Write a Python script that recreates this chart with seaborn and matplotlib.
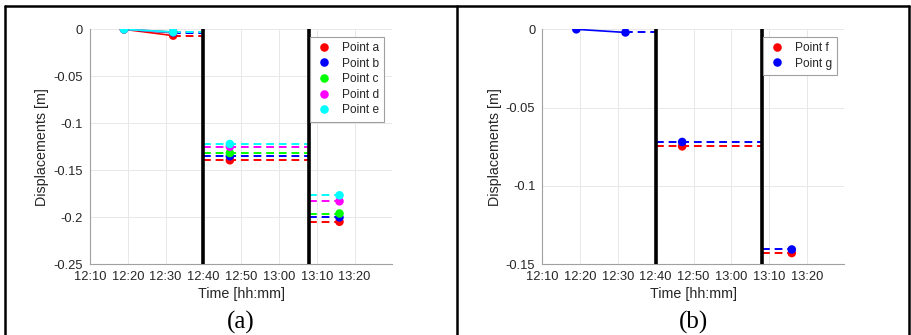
import numpy as np
import pandas as pd
import matplotlib
matplotlib.use("Agg")
import matplotlib.pyplot as plt
import seaborn as sns
from matplotlib.lines import Line2D
from matplotlib.ticker import FuncFormatter, FixedLocator

# measurement epochs and the two interruption times
times = ["12:19", "12:32", "12:47", "13:16"]
breaks = ["12:40", "13:08"]
xticks = ["12:10", "12:20", "12:30", "12:40", "12:50", "13:00", "13:10", "13:20"]

# panel (a) displacements [m]
points_a = ["Point a", "Point b", "Point c", "Point d", "Point e"]
disp_a = [
    [0.0, -0.0067, -0.1395, -0.2050],
    [0.0, -0.0036, -0.1352, -0.2003],
    [0.0, -0.0031, -0.1318, -0.1962],
    [0.0, -0.0030, -0.1250, -0.1832],
    [0.0, -0.0028, -0.1222, -0.1768],
]
colors_a = ["#ff0000", "#0000ff", "#00ff00", "#ff00ff", "#00ffff"]

# panel (b) displacements [m]
points_b = ["Point f", "Point g"]
disp_b = [
    [np.nan, np.nan, -0.0748, -0.1430],
    [0.0, -0.0020, -0.0720, -0.1407],
]
colors_b = ["#ff0000", "#0000ff"]


def to_min(s):
    h, m = s.split(":")
    return int(h) * 60 + int(m)


def hhmm(v, pos=None):
    v = int(round(v))
    return f"{v // 60}:{v % 60:02d}"


t = [to_min(s) for s in times]
b = [to_min(s) for s in breaks]


def build_frames(names, values):
    pts, solid, dash = [], [], []
    for name, vals in zip(names, values):
        for ti, v in zip(t, vals):
            if not np.isnan(v):
                pts.append({"time": ti, "disp": v, "point": name})
        # solid line between the first two epochs
        if not np.isnan(vals[0]) and not np.isnan(vals[1]):
            solid.append({"time": t[0], "disp": vals[0], "point": name, "seg": 0})
            solid.append({"time": t[1], "disp": vals[1], "point": name, "seg": 0})
        # dashed holding lines up to / between / from the interruptions
        spans = [(t[1], b[0], vals[1]), (b[0], b[1], vals[2]), (b[1], t[3], vals[3])]
        for k, (x0, x1, v) in enumerate(spans):
            if np.isnan(v):
                continue
            dash.append({"time": x0, "disp": v, "point": name, "seg": k})
            dash.append({"time": x1, "disp": v, "point": name, "seg": k})
    return pd.DataFrame(pts), pd.DataFrame(solid), pd.DataFrame(dash)


sns.set_style("whitegrid")
plt.rcParams["font.family"] = ["Liberation Sans", "DejaVu Sans"]

fig = plt.figure(figsize=(9.11, 3.35), dpi=100)
ax_a = fig.add_axes([0.0988, 0.2119, 0.3315, 0.7006])
ax_b = fig.add_axes([0.5953, 0.2119, 0.3315, 0.7006])

panels = [
    (ax_a, points_a, disp_a, colors_a, (-0.25, 0), 0.05, 0.9735, "(a)"),
    (ax_b, points_b, disp_b, colors_b, (-0.15, 0), 0.05, 0.977, "(b)"),
]

for ax, names, values, cols, ylim, ystep, leg_x, cap in panels:
    pal = dict(zip(names, cols))
    pts, solid, dash = build_frames(names, values)

    sns.lineplot(data=dash, x="time", y="disp", hue="point", units="seg",
                 estimator=None, palette=pal, linestyle=(0, (4, 2.5)),
                 linewidth=1.4, legend=False, ax=ax, sort=False)
    if len(solid):
        sns.lineplot(data=solid, x="time", y="disp", hue="point", units="seg",
                     estimator=None, palette=pal, linewidth=1.2,
                     legend=False, ax=ax, sort=False)
    for xb in b:
        ax.axvline(xb, color="black", linewidth=2.6, zorder=3)
    sns.scatterplot(data=pts, x="time", y="disp", hue="point", palette=pal,
                    s=38, edgecolor="none", ax=ax, zorder=4)

    ax.set_xlim(to_min("12:10"), to_min("13:29") + 0.9)
    ax.set_ylim(*ylim)
    ax.xaxis.set_major_locator(FixedLocator([to_min(s) for s in xticks]))
    ax.xaxis.set_major_formatter(FuncFormatter(hhmm))
    yt = np.round(np.arange(ylim[0], ylim[1] + 1e-9, ystep), 2)
    ax.set_yticks(yt)
    ax.set_yticklabels([("%g" % v) if v != 0 else "0" for v in yt])

    ax.set_xlabel("Time [hh:mm]", fontsize=10.3, color="#262626", labelpad=3)
    ax.set_ylabel("Displacements [m]", fontsize=10.3, color="#262626", labelpad=3)
    ax.tick_params(axis="both", direction="in", length=3, width=0.6,
                   color="#a0a0a0", labelsize=9.3, labelcolor="#262626", pad=5)
    ax.grid(True, color="#e8e8e8", linewidth=0.7)
    for side in ["left", "bottom"]:
        ax.spines[side].set_color("#a0a0a0")
        ax.spines[side].set_linewidth(0.8)
    for side in ["right", "top"]:
        ax.spines[side].set_visible(False)

    sns.move_legend(ax, "upper right", bbox_to_anchor=(leg_x, 0.9685),
                    title=None, frameon=True, fontsize=8.6, handletextpad=0.8,
                    borderpad=0.45, labelspacing=0.3, handlelength=1.4,
                    borderaxespad=0, fancybox=False)
    leg = ax.get_legend()
    leg.get_frame().set_edgecolor("#a0a0a0")
    leg.get_frame().set_linewidth(0.8)
    leg.get_frame().set_alpha(1)

    pos = ax.get_position()
    fig.text((pos.x0 + pos.x1) / 2, 0.018, cap, ha="center", va="baseline",
             fontsize=18, family=["Liberation Serif", "DejaVu Serif"], color="black")

# table cell borders around the two sub-figures
top = 1 - 6 / 335
fig.add_artist(Line2D([5 / 911, 909 / 911], [top, top], transform=fig.transFigure,
                      color="black", linewidth=1.8))
for xpix in [5, 457, 909]:
    fig.add_artist(Line2D([xpix / 911, xpix / 911], [0, top], transform=fig.transFigure,
                          color="black", linewidth=1.8))

fig.savefig("out.png", dpi=100)
